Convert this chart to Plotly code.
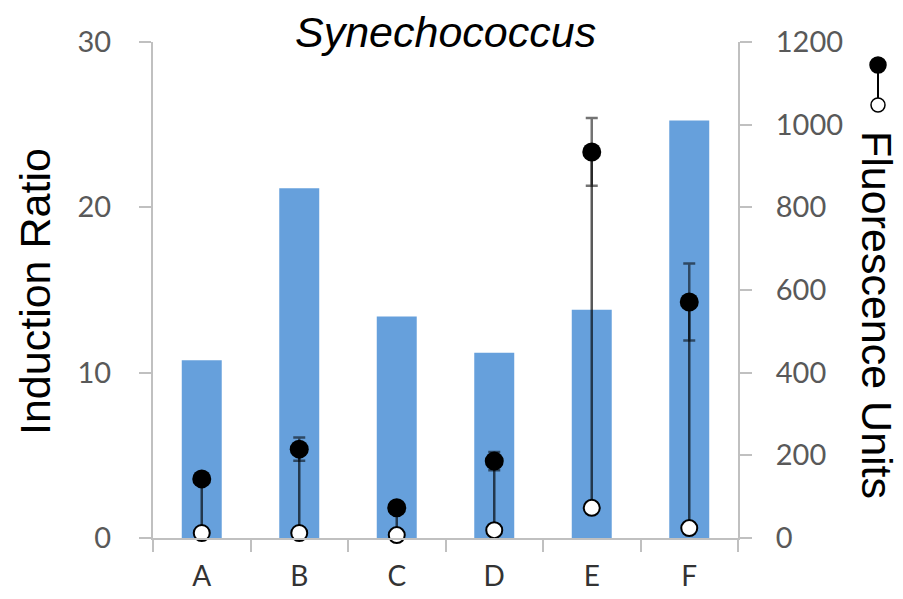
import plotly.graph_objects as go

categories = ["A", "B", "C", "D", "E", "F"]
induction_ratio = [10.75, 21.15, 13.4, 11.2, 13.8, 25.25]
induced_fluor = [143, 215, 73, 186, 934, 571]
induced_err = [4, 28, 4, 22, 82, 93]
uninduced_fluor = [12, 12, 7, 19, 73, 24]

left_ticks = [0, 10, 20, 30]
right_ticks = [0, 200, 400, 600, 800, 1000, 1200]

fig = go.Figure()

fig.add_trace(go.Bar(
    x=categories, y=induction_ratio, width=0.41,
    marker=dict(color="#66a0dc", line=dict(width=0)),
    yaxis="y", showlegend=False, hoverinfo="skip"))

# connector lines white -> black
cx, cy = [], []
for c, lo, hi in zip(categories, uninduced_fluor, induced_fluor):
    cx += [c, c, None]
    cy += [lo, hi, None]
fig.add_trace(go.Scatter(
    x=cx, y=cy, mode="lines", yaxis="y2",
    line=dict(color="rgba(0,0,0,0.65)", width=2.5),
    showlegend=False, hoverinfo="skip", cliponaxis=False))

fig.add_trace(go.Scatter(
    x=categories, y=induced_fluor, mode="markers", yaxis="y2",
    marker=dict(color="black", size=19),
    error_y=dict(type="data", array=induced_err, visible=True,
                 color="rgba(0,0,0,0.55)", thickness=2.5, width=6),
    showlegend=False, cliponaxis=False))

fig.add_trace(go.Scatter(
    x=categories, y=uninduced_fluor, mode="markers", yaxis="y2",
    marker=dict(color="white", size=16, line=dict(color="black", width=2)),
    showlegend=False, cliponaxis=False))

axis_gray = "#c0c0c0"
tickfont = dict(family="Lato", size=29, color="#595959")

# legend glyph (paper coords)
lx = (878 - 153) / 585
ly_top = (538 - 65) / 496
ly_bot = (538 - 105) / 496
shapes = [
    dict(type="line", xref="paper", yref="paper", xsizemode="pixel", xanchor=lx,
         x0=0, x1=0, y0=ly_bot, y1=ly_top, line=dict(color="black", width=2), layer="above"),
    dict(type="circle", xref="paper", yref="paper", xsizemode="pixel", ysizemode="pixel",
         xanchor=lx, yanchor=ly_top, x0=-8, x1=8, y0=-8, y1=8,
         fillcolor="black", line=dict(color="black", width=1.5), layer="above"),
    dict(type="circle", xref="paper", yref="paper", xsizemode="pixel", ysizemode="pixel",
         xanchor=lx, yanchor=ly_bot, x0=-7, x1=7, y0=-7, y1=7,
         fillcolor="white", line=dict(color="black", width=1.5), layer="above"),
]

fig.update_layout(
    width=903, height=599,
    margin=dict(l=153, r=165, t=42, b=61, autoexpand=False),
    plot_bgcolor="white", paper_bgcolor="white",
    font=dict(family="Liberation Sans"),
    xaxis=dict(range=[-0.5, 5.5], showline=True, linecolor=axis_gray, linewidth=2,
               ticks="outside", tickson="boundaries", ticklen=12, tickwidth=2,
               tickcolor=axis_gray, tickfont=dict(family="Lato", size=28, color="#333333"),
               ticklabelstandoff=12, showgrid=False, zeroline=False, fixedrange=True,
               automargin=False),
    yaxis=dict(range=[0, 30], tickvals=left_ticks, showline=True, linecolor=axis_gray,
               linewidth=2, ticks="outside", ticklen=12, tickwidth=2, tickcolor=axis_gray,
               tickfont=tickfont, ticklabelstandoff=22, showgrid=False, zeroline=False,
               automargin=False),
    yaxis2=dict(range=[0, 1200], tickvals=right_ticks, overlaying="y", side="right",
                showline=True, linecolor=axis_gray, linewidth=2, ticks="outside",
                ticklen=12, tickwidth=2, tickcolor=axis_gray, tickfont=tickfont,
                ticklabelstandoff=18, showgrid=False, zeroline=False, automargin=False),
    shapes=shapes,
    annotations=[
        dict(text="<i>Synechococcus</i>", xref="paper", yref="paper",
             x=(445 - 153) / 585, y=(538 - 32) / 496, xanchor="center", yanchor="middle",
             showarrow=False, font=dict(family="Liberation Sans", size=43, color="black")),
        dict(text="Induction Ratio", xref="paper", yref="paper",
             x=(35 - 153) / 585, y=(538 - 292) / 496, xanchor="center", yanchor="middle",
             textangle=-90, showarrow=False,
             font=dict(family="Liberation Sans", size=43, color="black")),
        dict(text="Fluorescence Units", xref="paper", yref="paper",
             x=(877 - 153) / 585, y=(538 - 315) / 496, xanchor="center", yanchor="middle",
             textangle=90, showarrow=False,
             font=dict(family="Liberation Sans", size=43, color="black")),
    ],
)

fig.write_html("out.html", config={"displayModeBar": False},
               post_script="document.body.style.margin='0px';document.body.style.overflow='hidden';")
